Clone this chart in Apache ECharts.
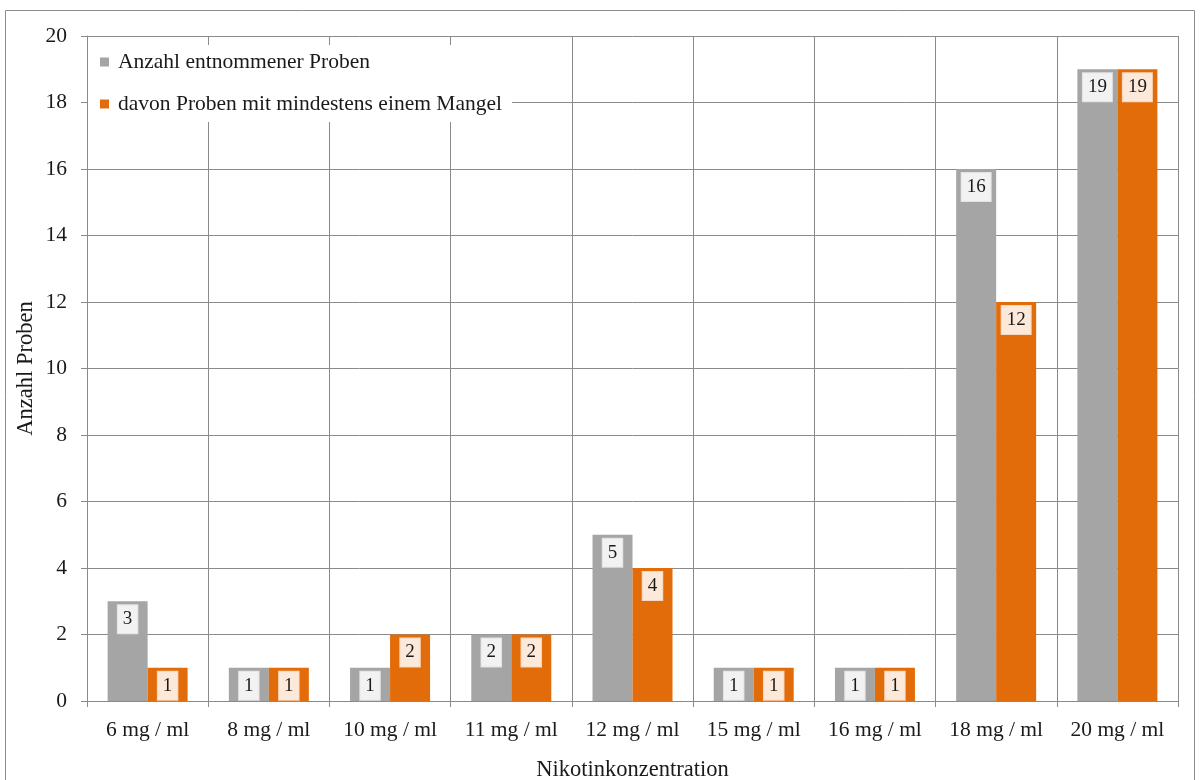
<!DOCTYPE html>
<html>
<head>
<meta charset="utf-8">
<script src="https://cdn.jsdelivr.net/npm/echarts@6/dist/echarts.min.js"></script>
<style>
  html, body { margin: 0; padding: 0; background: #fff; overflow: hidden; }
  #chart { width: 1200px; height: 780px; }
</style>
</head>
<body>
<div id="chart"></div>
<script>
// Nicotine concentrations and sample counts
const categories = ['6 mg / ml', '8 mg / ml', '10 mg / ml', '11 mg / ml', '12 mg / ml',
                    '15 mg / ml', '16 mg / ml', '18 mg / ml', '20 mg / ml'];
const samplesTaken = [3, 1, 1, 2, 5, 1, 1, 16, 19];
const samplesWithDefect = [1, 1, 2, 2, 4, 1, 1, 12, 19];
const seriesNames = ['Anzahl entnommener Proben', 'davon Proben mit mindestens einem Mangel'];

const FONT = 'Liberation Serif, Times New Roman, serif';
const GRID = '#8a8a8a';
const TEXT = '#1a1a1a';

const chart = echarts.init(document.getElementById('chart'), null, { renderer: 'canvas' });

function barLabel(bg, border) {
  return {
    show: true,
    position: 'insideTop',
    distance: 4,
    color: TEXT,
    fontFamily: FONT,
    fontSize: 19,
    lineHeight: 20,
    backgroundColor: bg,
    borderColor: border,
    borderWidth: 1,
    padding: [4, 5, 4, 5]
  };
}

chart.setOption({
  animation: false,
  textStyle: { fontFamily: FONT, color: TEXT },
  graphic: [{
    type: 'rect',
    shape: { x: 5.5, y: 10.5, width: 1189, height: 790 },
    style: { fill: 'none', stroke: '#8c8c8c', lineWidth: 1 },
    silent: true,
    z: -10
  }],
  grid: {
    left: 87, top: 36, width: 1091, height: 665,
    containLabel: false,
    outerBoundsMode: 'none'
  },
  legend: {
    left: 88,
    top: 45,
    orient: 'vertical',
    itemWidth: 9,
    itemHeight: 9,
    itemGap: 20,
    icon: 'rect',
    backgroundColor: '#ffffff',
    padding: [6, 10, 7, 12],
    textStyle: { fontFamily: FONT, fontSize: 21.5, lineHeight: 22, color: TEXT, padding: [0, 0, 0, 4] },
    data: seriesNames
  },
  xAxis: {
    type: 'category',
    data: categories,
    name: 'Nikotinkonzentration',
    nameLocation: 'middle',
    nameGap: 58,
    nameMoveOverlap: false,
    nameTextStyle: { fontFamily: FONT, fontSize: 22.5, color: TEXT },
    axisLine: { show: true, lineStyle: { color: GRID, width: 1 } },
    axisTick: { show: true, length: 6, lineStyle: { color: GRID } },
    axisLabel: { fontFamily: FONT, fontSize: 21.5, color: TEXT, margin: 18, interval: 0 },
    splitLine: { show: true, interval: 0, lineStyle: { color: GRID, width: 1 } }
  },
  yAxis: {
    type: 'value',
    min: 0,
    max: 20,
    interval: 2,
    name: 'Anzahl Proben',
    nameLocation: 'middle',
    nameGap: 49,
    nameMoveOverlap: false,
    nameTextStyle: { fontFamily: FONT, fontSize: 22.5, color: TEXT },
    axisLine: { show: true, lineStyle: { color: GRID, width: 1 } },
    axisTick: { show: true, length: 6, lineStyle: { color: GRID } },
    axisLabel: { fontFamily: FONT, fontSize: 21.5, color: TEXT, margin: 20 },
    splitLine: { show: true, lineStyle: { color: GRID, width: 1 } }
  },
  series: [
    {
      name: seriesNames[0],
      type: 'bar',
      data: samplesTaken,
      barWidth: 40,
      barGap: '0%',
      itemStyle: { color: '#a5a5a5' },
      label: barLabel('#f2f2f2', '#e2e2e2'),
      z: 3
    },
    {
      name: seriesNames[1],
      type: 'bar',
      data: samplesWithDefect,
      barWidth: 40,
      barGap: '0%',
      itemStyle: { color: '#e36c0a' },
      label: barLabel('#fde9d9', '#f8d5bd'),
      z: 3
    }
  ]
});
</script>
</body>
</html>
